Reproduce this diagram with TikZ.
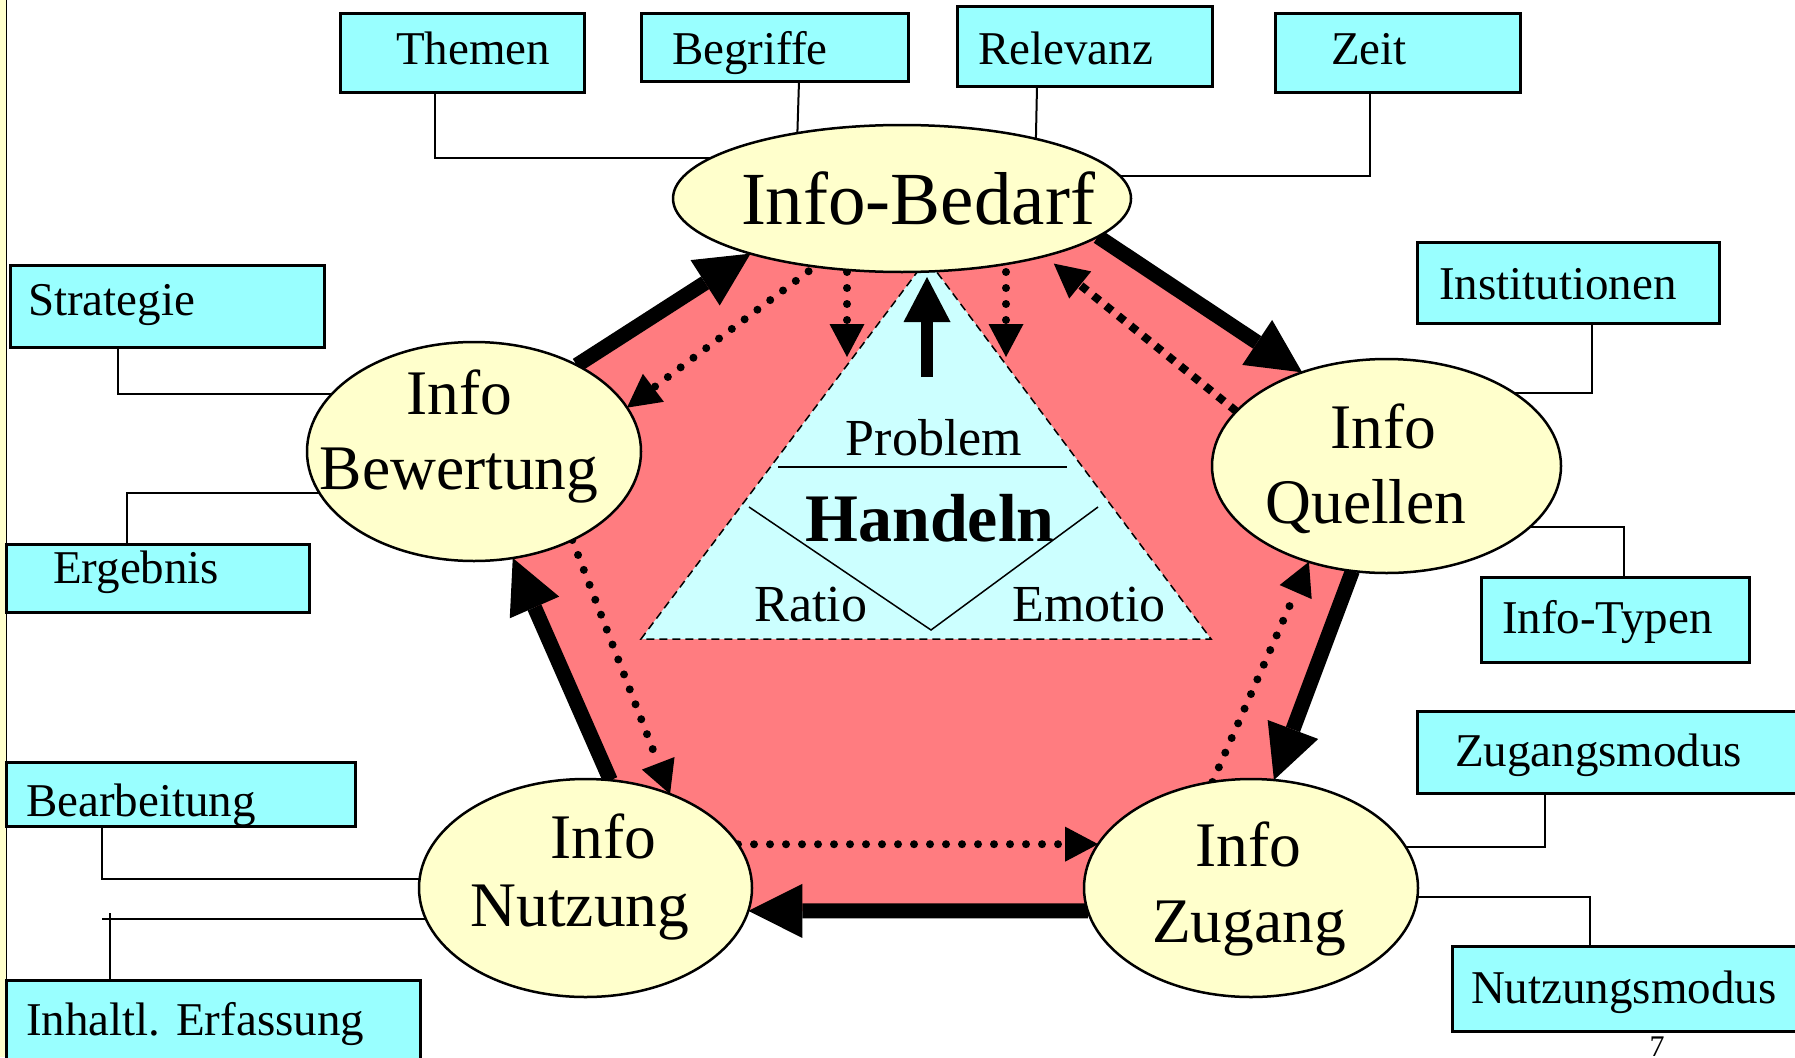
\documentclass[tikz,border=0pt]{standalone}
\usepackage{fontspec}
\setmainfont{Liberation Serif}
\usetikzlibrary{arrows.meta,shapes.geometric}
\definecolor{boxcyan}{HTML}{99FFFF}
\definecolor{bubbleyellow}{HTML}{FFFFCC}
\definecolor{pinkred}{HTML}{FF7C80}
\definecolor{tricyan}{HTML}{CCFFFF}
\newcommand\fsBox{\fontsize{47}{50}\selectfont}
\newcommand\fsEll{\fontsize{63.5}{70}\selectfont}
\newcommand\fsBig{\fontsize{75}{80}\selectfont}
\newcommand\fsTri{\fontsize{52}{56}\selectfont}
\newcommand\fsHand{\fontsize{68}{72}\selectfont\bfseries}
\newcommand\fsPage{\fontsize{30}{32}\selectfont}
\pgfdeclarelayer{lone}
\pgfdeclarelayer{ltwo}
\pgfsetlayers{lone,ltwo,main}
\begin{document}
\begin{tikzpicture}[x=1pt,y=-1pt,
  cbox/.style={draw, line width=3pt, fill=boxcyan, inner sep=0pt, outer sep=0pt},
  bubble/.style={ellipse, draw, line width=2.5pt, fill=bubbleyellow, inner sep=0pt, outer sep=0pt},
  conn/.style={line width=2pt},
  txt/.style={inner sep=0pt, outer sep=0pt},
  bigarrow/.style={line width=15pt, -{Triangle[length=54pt,width=54pt,line width=0pt]}},
  dotarrow/.style={line width=8pt, line cap=round, dash pattern=on 0pt off 16pt, -{Triangle[length=33pt,width=35pt,line width=0pt]}},
  sqarrow/.style={line width=8pt, dash pattern=on 8pt off 8pt, -{Triangle[length=34pt,width=35pt,line width=0pt]}},
  uparrow/.style={line width=12pt, -{Triangle[length=45pt,width=47pt,line width=0pt]}},
  tri/.style={fill=tricyan, draw, line width=1.5pt, dash pattern=on 8pt off 5pt},
  fine/.style={line width=1.5pt}
]
\useasboundingbox (0,0) rectangle (1795,1057);

% ---------- boxes ----------
\node[cbox, minimum width=244pt, minimum height=78pt] (themen) at (462,53) {};
\node[cbox, minimum width=267pt, minimum height=67pt] (begriffe) at (774.5,47.5) {};
\node[cbox, minimum width=255pt, minimum height=79pt] (relevanz) at (1084.5,46.5) {};
\node[cbox, minimum width=245pt, minimum height=78pt] (zeit) at (1397.5,53) {};
\node[cbox, minimum width=302pt, minimum height=81pt] (institutionen) at (1568,282.5) {};
\node[cbox, minimum width=268pt, minimum height=85pt] (infotypen) at (1615,619.5) {};
\node[cbox, minimum width=383pt, minimum height=82pt] (zugangsmodus) at (1608.5,752) {};
\node[cbox, minimum width=348pt, minimum height=85pt] (nutzungsmodus) at (1626,988.5) {};
\node[cbox, minimum width=314pt, minimum height=82pt] (strategie) at (167,306) {};
\node[cbox, minimum width=303pt, minimum height=68pt] (ergebnis) at (157.5,578) {};
\node[cbox, minimum width=349pt, minimum height=64pt] (bearbeitung) at (180.5,794) {};
\node[cbox, minimum width=414pt, minimum height=90pt] (inhaltl) at (213,1025) {};

% ---------- ellipses ----------
\node[bubble, minimum width=458pt, minimum height=147pt] (bedarf) at (902,198.5) {};
\node[bubble, minimum width=334pt, minimum height=219pt] (bewertung) at (474,451.5) {};
\node[bubble, minimum width=349pt, minimum height=214pt] (quellen) at (1386.5,466) {};
\node[bubble, minimum width=333pt, minimum height=218pt] (nutzung) at (585.5,888) {};
\node[bubble, minimum width=334pt, minimum height=218pt] (zugang) at (1251,888) {};

% ---------- background: strip, red pentagon, triangle ----------
\begin{pgfonlayer}{lone}
  \fill[bubbleyellow] (0,0) rectangle (6,1057);
  \draw[line width=1.5pt] (6.5,0) -- (6.5,1057);
  \fill[pinkred] (940,132) -- (1402,439) -- (1225,911) -- (668,911) -- (461,440) -- cycle;
  \coordinate (tA) at (927,259);
  \coordinate (tB) at (641,639);
  \coordinate (tC) at (1211,639);
  \filldraw[tri] (tA) -- (tB) -- (tC) -- cycle;
  \draw[fine] (778,467) -- (1067,467);
  \draw[fine] (749,507) -- (931,630) -- (1098,507);
\end{pgfonlayer}

% ---------- connectors and arrows ----------
\begin{pgfonlayer}{ltwo}
  \draw[conn] ([xshift=-27pt]themen.south) |- (bedarf.168);
  \draw[conn] ([xshift=24.5pt]begriffe.south) -- (bedarf.148);
  \draw[conn] ([xshift=-47.5pt]relevanz.south) -- (bedarf.24);
  \draw[conn] ([xshift=-27.5pt]zeit.south) |- (bedarf.6);
  \draw[conn] ([xshift=24pt]institutionen.south) |- (quellen.30);
  \draw[conn] (quellen.337) -| ([xshift=9pt]infotypen.north);
  \draw[conn] ([xshift=-63.5pt]zugangsmodus.south) |- (zugang.15);
  \draw[conn] (zugang.357) -| ([xshift=-36pt]nutzungsmodus.north);
  \draw[conn] ([xshift=-49pt]strategie.south) |- (bewertung.158);
  \draw[conn] ([xshift=-30.5pt]ergebnis.north) |- (bewertung.195);
  \draw[conn] ([xshift=-78.5pt]bearbeitung.south) |- (nutzung.177);
  \draw[conn] (nutzung.191) -- ++(-324pt,0pt);
  \draw[conn] ([xshift=-103pt]inhaltl.north) -- ++(0pt,67pt);

  \draw[bigarrow] (bewertung.40) -- (bedarf.200);
  \draw[bigarrow] (bedarf.349) -- (quellen.132);
  \draw[bigarrow] (quellen.252) -- (zugang.78);
  \draw[bigarrow] (zugang.188) -- (nutzung.352);
  \draw[bigarrow] (nutzung.77) -- (bewertung.290);

  \draw[dotarrow, shorten <=8pt] (bedarf.218) -- (bewertung.16);
  \draw[dotarrow] (bewertung.318) -- (nutzung.48);
  \draw[dotarrow] (nutzung.16) -- (zugang.164);
  \draw[dotarrow] (zugang.110) -- (quellen.231);
  \draw[sqarrow, shorten >=12pt] (quellen.160) -- (bedarf.338);
  \draw[dotarrow] ([xshift=-55pt]bedarf.south) -- ++(0pt,-85pt);
  \draw[dotarrow] ([xshift=104pt]bedarf.south) -- ++(0pt,-85pt);

  \coordinate (upS) at (927,377);
  \coordinate (upE) at (927,277);
  \draw[uparrow] (upS) -- (upE);
\end{pgfonlayer}

% ---------- texts ----------
\node[txt, font=\fsBox, anchor=base west] (tThemen) at (396,64) {Themen};
\node[txt, font=\fsBox, anchor=base west] (tBegriffe) at (672,64) {Begriffe};
\node[txt, font=\fsBox, anchor=base west] (tRelevanz) at (978,64) {Relevanz};
\node[txt, font=\fsBox, anchor=base west] (tZeit) at (1331,64) {Zeit};
\node[txt, font=\fsBox, anchor=base west] (tInst) at (1439,299) {Institutionen};
\node[txt, font=\fsBox, anchor=base west] (tTypen) at (1502,633) {Info-Typen};
\node[txt, font=\fsBox, anchor=base west] (tZmod) at (1455,766) {Zugangsmodus};
\node[txt, font=\fsBox, anchor=base west] (tNmod) at (1471,1003) {Nutzungsmodus};
\node[txt, font=\fsBox, anchor=base west] (tStrat) at (28,315) {Strategie};
\node[txt, font=\fsBox, anchor=base west] (tErg) at (53,583) {Ergebnis};
\node[txt, font=\fsBox, anchor=base west] (tBearb) at (26,816) {Bearbeitung};
\node[txt, font=\fsBox, anchor=base west] (tInh) at (26,1035) {Inhaltl. Erfassung};

\node[txt, font=\fsBig, anchor=base] (tBedarf) at (918,224) {Info-Bedarf};
\node[txt, font=\fsEll, anchor=base] (tBew1) at (459,414) {Info};
\node[txt, font=\fsEll, anchor=base] (tBew2) at (459,489) {Bewertung};
\node[txt, font=\fsEll, anchor=base] (tQue1) at (1383,448) {Info};
\node[txt, font=\fsEll, anchor=base] (tQue2) at (1366,523) {Quellen};
\node[txt, font=\fsEll, anchor=base] (tNut1) at (603,858) {Info};
\node[txt, font=\fsEll, anchor=base] (tNut2) at (580,926) {Nutzung};
\node[txt, font=\fsEll, anchor=base] (tZug1) at (1248,866) {Info};
\node[txt, font=\fsEll, anchor=base] (tZug2) at (1249,942) {Zugang};

\node[txt, font=\fsTri, anchor=base] (tProblem) at (934,455) {Problem};
\node[txt, font=\fsHand, anchor=base] (tHandeln) at (930,541) {Handeln};
\node[txt, font=\fsTri, anchor=base] (tRatio) at (811,621) {Ratio};
\node[txt, font=\fsTri, anchor=base] (tEmotio) at (1089,621) {Emotio};

\node[txt, font=\fsPage, anchor=base] (tPage) at (1657,1056) {7};
\end{tikzpicture}
\end{document}
